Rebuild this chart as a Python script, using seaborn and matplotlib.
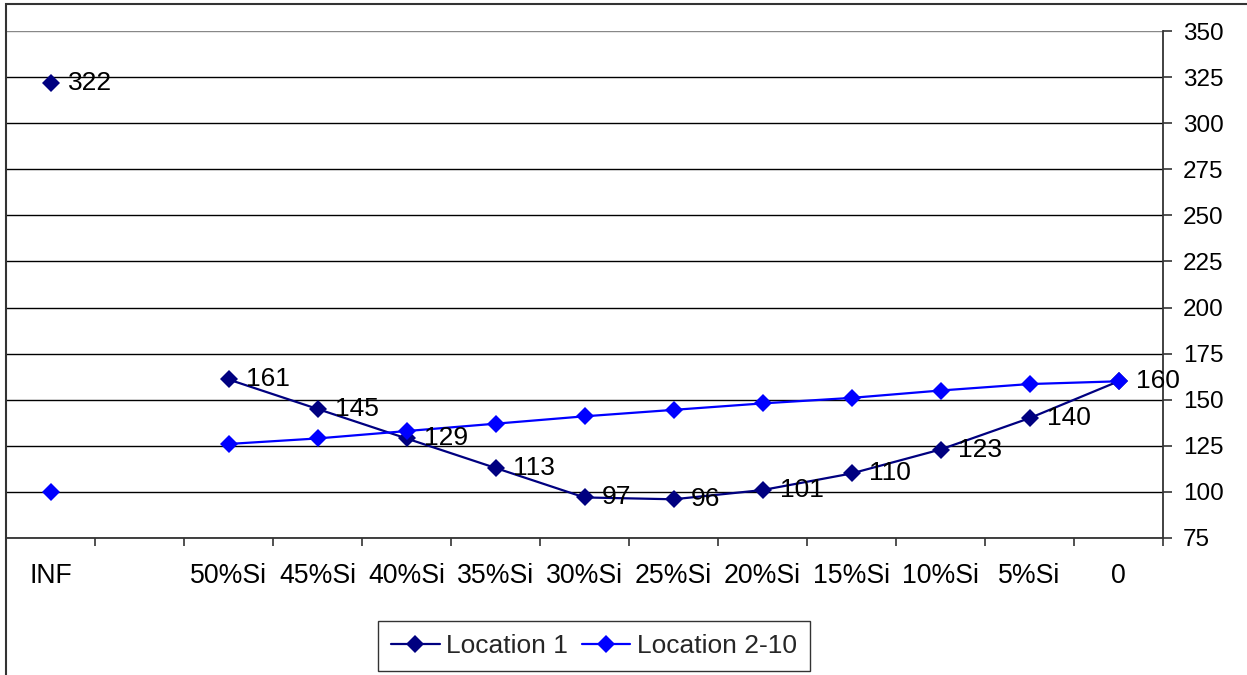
import numpy as np
import pandas as pd
import matplotlib
matplotlib.use("Agg")
import matplotlib.pyplot as plt
from matplotlib.lines import Line2D
from matplotlib.patches import Rectangle
import seaborn as sns

# Categories along the x axis (one empty slot between INF and 50%Si)
categories = ["INF", "", "50%Si", "45%Si", "40%Si", "35%Si", "30%Si",
              "25%Si", "20%Si", "15%Si", "10%Si", "5%Si", "0"]

# Series values (None = no value in that category)
location_1 = [322, None, 161, 145, 129, 113, 97, 96, 101, 110, 123, 140, 160]
location_2_10 = [100, None, 126, 129, 133, 137, 141, 144.5, 148, 151, 155, 158.5, 160]

series_names = ["Location 1", "Location 2-10"]
series_colors = {"Location 1": "#000080", "Location 2-10": "#0000FF"}
y_ticks = list(range(75, 351, 25))

# Long-format table; a missing value starts a new line segment
rows = []
for name, vals in zip(series_names, [location_1, location_2_10]):
    seg = 0
    for i, v in enumerate(vals):
        if v is None:
            seg += 1
            continue
        rows.append({"pos": i, "value": v, "series": name, "segment": f"{name}-{seg}"})
df = pd.DataFrame(rows)

sns.set_theme(style="white")
plt.rcParams["font.family"] = ["Liberation Sans", "DejaVu Sans"]

W, H = 1247, 675
fig = plt.figure(figsize=(W / 100, H / 100), dpi=100)
ax = fig.add_axes([6 / W, 1 - 538 / H, (1163 - 6) / W, (538 - 31) / H])

MS, LW = 8.8, 1.6
sns.lineplot(data=df, x="pos", y="value", hue="series", hue_order=series_names,
             units="segment", estimator=None, palette=series_colors,
             marker="D", markersize=MS, markeredgewidth=0, linewidth=LW,
             legend=False, ax=ax)
for ln in ax.lines:
    ln.set_markeredgecolor(ln.get_color())
    ln.set_markeredgewidth(0)

# Value labels for Location 1
for i, v in enumerate(location_1):
    if v is None:
        continue
    ax.annotate(f"{v:g}", (i, v), xytext=(12.5, 0), textcoords="offset points",
                ha="left", va="center", fontsize=19, color="black")

ax.set_xlim(-0.5, len(categories) - 0.5)
ax.set_ylim(75, 350)
ax.set_yticks(y_ticks)
ax.yaxis.tick_right()
ax.tick_params(axis="y", which="major", direction="out", length=6.5, width=1.2,
               pad=8, labelsize=17.5, colors="#333333", labelcolor="black")

ax.set_xticks(range(len(categories)))
ax.set_xticklabels(categories)
ax.set_xticks(np.arange(0.5, len(categories), 1.0), minor=True)
ax.tick_params(axis="x", which="major", length=0, pad=18, labelsize=19.2, labelcolor="black")
ax.tick_params(axis="x", which="minor", direction="out", length=6, width=1.2,
               colors="#333333", bottom=True)
ax.set_xlabel("")
ax.set_ylabel("")

ax.set_axisbelow(True)
ax.grid(axis="y", color="black", linewidth=1.0)
ax.yaxis.get_gridlines()[-1].set_color("#888888")

for side in ["top", "left"]:
    ax.spines[side].set_visible(False)
for side in ["right", "bottom"]:
    ax.spines[side].set_visible(True)
    ax.spines[side].set_color("#333333")
    ax.spines[side].set_linewidth(1.3)

handles = [Line2D([], [], color=series_colors[n], marker="D", markersize=MS,
                  markeredgewidth=0, linewidth=LW) for n in series_names]
leg = fig.legend(handles, series_names, loc="center",
                 bbox_to_anchor=(594 / W, 1 - 646 / H), ncol=2, fontsize=19,
                 frameon=True, fancybox=False, edgecolor="black",
                 handlelength=1.85, handletextpad=0.25, columnspacing=0.5,
                 borderpad=0.5)
leg.get_frame().set_linewidth(1.0)

# Chart-area border (left and top edges fall inside the canvas)
fig.add_artist(Rectangle((6 / W, -0.2), 2.0, 1.2 - 4 / H, transform=fig.transFigure,
                         fill=False, edgecolor="#333333", linewidth=1.5))

fig.savefig("out.png", dpi=100)
